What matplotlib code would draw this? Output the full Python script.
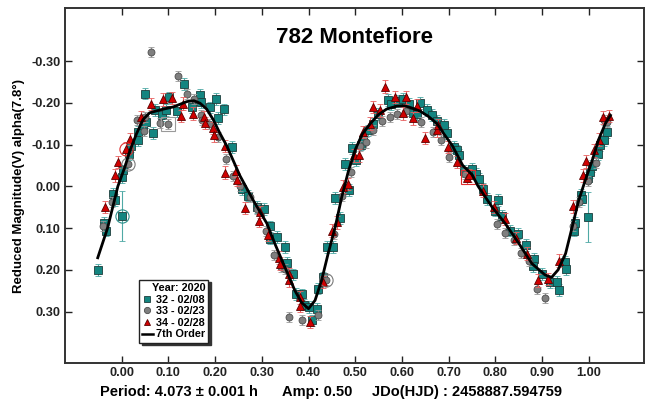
import matplotlib
matplotlib.use("Agg")
import matplotlib.pyplot as plt
from matplotlib.lines import Line2D
import numpy as np

plt.rcParams['font.family'] = ['Liberation Sans', 'DejaVu Sans']
plt.rcParams['font.weight'] = 'bold'
plt.rcParams['axes.unicode_minus'] = False

# session 32 - 02/08 (phase, reduced mag)
s32 = [(-0.050, 0.200), (-0.037, 0.088), (-0.034, 0.106), (-0.018, 0.018), (-0.013, 0.032),
       (0.000, -0.022), (0.003, -0.038), (0.016, -0.078), (0.021, -0.096), (0.036, -0.110),
       (0.036, -0.130), (0.046, -0.146), (0.050, -0.222), (0.053, -0.154), (0.068, -0.127),
       (0.071, -0.182), (0.086, -0.170), (0.101, -0.213), (0.094, -0.182), (0.118, -0.180),
       (0.133, -0.245), (0.150, -0.190), (0.168, -0.218), (0.171, -0.202), (0.189, -0.189),
       (0.203, -0.209), (0.206, -0.164), (0.219, -0.184), (0.236, -0.094), (0.257, 0.006),
       (0.271, 0.022), (0.289, 0.050), (0.305, 0.054), (0.318, 0.096), (0.318, 0.125),
       (0.333, 0.122), (0.350, 0.146), (0.355, 0.183), (0.367, 0.211), (0.373, 0.257),
       (0.385, 0.259), (0.391, 0.283), (0.400, 0.289), (0.407, 0.321), (0.418, 0.293),
       (0.421, 0.245), (0.432, 0.218), (0.439, 0.146), (0.453, 0.146), (0.457, 0.028),
       (0.467, 0.075), (0.477, -0.053), (0.486, 0.008), (0.494, -0.092), (0.501, -0.062),
       (0.512, -0.100), (0.516, -0.110), (0.528, -0.134), (0.537, -0.149), (0.549, -0.174),
       (0.571, -0.207), (0.576, -0.197), (0.592, -0.204), (0.602, -0.210), (0.614, -0.198),
       (0.623, -0.176), (0.632, -0.174), (0.639, -0.199), (0.653, -0.182), (0.664, -0.170),
       (0.674, -0.157), (0.689, -0.148), (0.697, -0.128), (0.711, -0.094), (0.717, -0.086),
       (0.723, -0.076), (0.733, -0.036), (0.749, -0.042), (0.758, -0.030), (0.765, -0.018),
       (0.774, 0.006), (0.782, 0.030), (0.806, 0.033), (0.800, 0.058), (0.814, 0.070),
       (0.831, 0.106), (0.849, 0.113), (0.866, 0.140), (0.883, 0.174), (0.881, 0.190),
       (0.899, 0.210), (0.916, 0.230), (0.932, 0.229), (0.935, 0.248), (0.949, 0.181),
       (0.951, 0.199), (0.967, 0.106), (0.970, 0.088), (0.983, 0.020), (0.986, 0.030),
       (0.999, -0.021), (1.003, -0.034), (1.006, -0.048), (1.019, -0.077), (1.024, -0.098),
       (1.033, -0.110), (1.039, -0.130)]
# two noisy points of session 32 with large errors
s32_wide = [(0.000, 0.072, 0.060), (0.999, 0.073, 0.060)]

# session 33 - 02/23
s33 = [(-0.039, 0.096), (-0.020, 0.038), (0.014, -0.053), (0.032, -0.160), (0.048, -0.133),
       (0.050, -0.165), (0.064, -0.322), (0.082, -0.152), (0.100, -0.150), (0.121, -0.265),
       (0.139, -0.222), (0.155, -0.210), (0.171, -0.170), (0.173, -0.160), (0.188, -0.150),
       (0.207, -0.118), (0.223, -0.066), (0.239, -0.025), (0.253, -0.002), (0.275, 0.026),
       (0.289, 0.054), (0.308, 0.106), (0.326, 0.164), (0.341, 0.193), (0.350, 0.197),
       (0.359, 0.312), (0.386, 0.320), (0.421, 0.307), (0.437, 0.225), (0.455, 0.115),
       (0.471, 0.022), (0.490, -0.034), (0.510, -0.096), (0.523, -0.105), (0.539, -0.134),
       (0.557, -0.157), (0.574, -0.167), (0.590, -0.173), (0.609, -0.181), (0.641, -0.155),
       (0.666, -0.130), (0.683, -0.110), (0.701, -0.070), (0.735, -0.030), (0.804, 0.090),
       (0.820, 0.112), (0.839, 0.128), (0.854, 0.160), (0.872, 0.179), (0.888, 0.246),
       (0.905, 0.267), (0.965, 0.095), (0.978, 0.038), (0.998, -0.013), (1.015, -0.056),
       (1.033, -0.160), (1.039, -0.154)]

# session 34 - 02/28
s34 = [(-0.036, 0.050), (-0.013, -0.026), (-0.007, -0.058), (0.009, -0.090), (0.018, -0.113),
       (0.041, -0.166), (0.064, -0.197), (0.088, -0.208), (0.108, -0.211), (0.128, -0.168),
       (0.132, -0.198), (0.152, -0.174), (0.176, -0.166), (0.178, -0.152), (0.196, -0.140),
       (0.198, -0.122), (0.221, -0.097), (0.221, -0.033), (0.245, -0.037), (0.248, -0.016),
       (0.265, 0.052), (0.293, 0.082), (0.296, 0.062), (0.314, 0.116), (0.336, 0.171),
       (0.339, 0.185), (0.358, 0.211), (0.359, 0.225), (0.381, 0.266), (0.381, 0.286),
       (0.403, 0.325), (0.430, 0.229), (0.450, 0.106), (0.460, 0.086), (0.474, 0.001),
       (0.484, -0.006), (0.498, -0.074), (0.508, -0.074), (0.517, -0.130), (0.532, -0.150),
       (0.539, -0.190), (0.552, -0.182), (0.563, -0.239), (0.584, -0.214), (0.602, -0.175),
       (0.608, -0.213), (0.623, -0.163), (0.632, -0.193), (0.650, -0.116), (0.674, -0.134),
       (0.678, -0.146), (0.698, -0.094), (0.717, -0.058), (0.739, -0.020), (0.744, -0.026),
       (0.773, 0.010), (0.796, 0.050), (0.821, 0.078), (0.844, 0.124), (0.868, 0.161),
       (0.891, 0.225), (0.913, 0.222), (0.937, 0.178), (0.965, 0.048), (0.988, -0.026),
       (0.994, -0.060), (1.010, -0.086), (1.021, -0.112), (1.031, -0.165), (1.043, -0.168)]

err32, err33, err34 = 0.014, 0.012, 0.015

# 7th order Fourier fit, sampled along phase
fit = [(-0.051, 0.171), (-0.030, 0.100), (-0.008, 0.000), (0.007, -0.046), (0.018, -0.086),
       (0.032, -0.126), (0.046, -0.160), (0.060, -0.176), (0.082, -0.183), (0.110, -0.190),
       (0.140, -0.203), (0.155, -0.205), (0.168, -0.199), (0.182, -0.185), (0.196, -0.160),
       (0.210, -0.128), (0.225, -0.097), (0.253, -0.026), (0.282, 0.034), (0.311, 0.089),
       (0.329, 0.140), (0.350, 0.195), (0.371, 0.250), (0.385, 0.278), (0.400, 0.293),
       (0.414, 0.273), (0.428, 0.225), (0.442, 0.161), (0.457, 0.098), (0.471, 0.026),
       (0.485, -0.035), (0.500, -0.088), (0.515, -0.125), (0.532, -0.150), (0.550, -0.172),
       (0.567, -0.185), (0.589, -0.192), (0.605, -0.193), (0.620, -0.188), (0.639, -0.180),
       (0.657, -0.167), (0.675, -0.150), (0.690, -0.125), (0.708, -0.097), (0.730, -0.050),
       (0.750, -0.028), (0.763, 0.000), (0.793, 0.050), (0.821, 0.089), (0.849, 0.135),
       (0.878, 0.185), (0.906, 0.212), (0.920, 0.218), (0.934, 0.200), (0.950, 0.161),
       (0.964, 0.098), (0.978, 0.034), (0.992, -0.014), (1.007, -0.062), (1.020, -0.110),
       (1.035, -0.150), (1.046, -0.170)]

# highlighted points (phase, mag, marker, colour)
marked = [(0.000, 0.072, 'o', '#2a8f8a'), (0.014, -0.053, 'o', '#7a7a7a'),
          (0.009, -0.090, 'o', '#e03030'), (0.100, -0.150, 's', '#9a9a9a'),
          (0.437, 0.225, 'o', '#7a7a7a'), (0.742, -0.022, 's', '#e03030')]

xticks = [0.0, 0.1, 0.2, 0.3, 0.4, 0.5, 0.6, 0.7, 0.8, 0.9, 1.0]
yticks = [-0.3, -0.2, -0.1, 0.0, 0.1, 0.2, 0.3]

teal, teal_e = '#138580', '#4fa9a5'
grey, grey_e = '#7f7f7f', '#9a9a9a'
red, red_e = '#d00000', '#e86060'

fig = plt.figure(figsize=(6.47, 4.01), dpi=100)
ax = fig.add_axes([0.1005, 0.0948, 0.895, 0.8852])

x, y = np.array(s32).T
ax.errorbar(x, y, yerr=err32, fmt='s', ms=5.8, mfc=teal, mec='#1d3d3b', mew=0.6,
            ecolor=teal_e, elinewidth=0.8, capsize=2.2, capthick=0.8, zorder=3)
xw, yw, ew = np.array(s32_wide).T
ax.errorbar(xw, yw, yerr=ew, fmt='s', ms=5.8, mfc=teal, mec='#1d3d3b', mew=0.6,
            ecolor=teal_e, elinewidth=0.8, capsize=2.2, capthick=0.8, zorder=3)
x, y = np.array(s33).T
ax.errorbar(x, y, yerr=err33, fmt='o', ms=5.0, mfc=grey, mec='#4d4d4d', mew=0.6,
            ecolor=grey_e, elinewidth=0.8, capsize=2.2, capthick=0.8, zorder=4)
x, y = np.array(s34).T
ax.errorbar(x, y, yerr=err34, fmt='^', ms=5.6, mfc=red, mec='#5a0000', mew=0.6,
            ecolor=red_e, elinewidth=0.8, capsize=2.2, capthick=0.8, zorder=5)

for px, py, m, c in marked:
    ax.plot(px, py, m, ms=9.5, mfc='none', mec=c, mew=0.8, zorder=6)

fx, fy = np.array(fit).T
ax.plot(fx, fy, color='black', lw=2, zorder=7)

ax.set_xlim(-0.121, 1.118)
ax.set_ylim(0.423, -0.427)
ax.set_xticks(xticks)
ax.set_yticks(yticks)
ax.set_xticklabels(['%.2f' % t for t in xticks])
ax.set_yticklabels(['%.2f' % t for t in yticks])
ax.tick_params(direction='in', length=5, width=1, top=True, right=True,
               labeltop=False, labelright=False, labelsize=9.2, pad=3, colors='#222222')
for lab in ax.get_xticklabels() + ax.get_yticklabels():
    lab.set_fontweight('bold')
for sp in ax.spines.values():
    sp.set_linewidth(1.4)
    sp.set_color('#333333')

ax.set_ylabel('Reduced Magnitude(V) alpha(7.8°)', fontsize=9.5, fontweight='bold', labelpad=5)
ax.text(0.5, 0.918, '782 Montefiore', transform=ax.transAxes, ha='center', va='center',
        fontsize=16, fontweight='bold')

handles = [
    Line2D([], [], ls='none', marker='s', ms=5, mfc=teal, mec='#1d3d3b', mew=0.6, label='32 - 02/08'),
    Line2D([], [], ls='none', marker='o', ms=4.5, mfc=grey, mec='#4d4d4d', mew=0.6, label='33 - 02/23'),
    Line2D([], [], ls='none', marker='^', ms=5, mfc=red, mec='#5a0000', mew=0.6, label='34 - 02/28'),
    Line2D([], [], color='black', lw=1.8, label='7th Order'),
]
leg = ax.legend(handles=handles, title='Year: 2020', loc='lower left',
                bbox_to_anchor=(0.118, 0.042), fontsize=7.8, title_fontsize=7.8,
                handlelength=1.0, handletextpad=0.3, labelspacing=0.15, borderpad=0.3,
                frameon=True, fancybox=False, framealpha=1, edgecolor='#222222',
                shadow={'color': '#333333', 'alpha': 1.0}, alignment='right')
leg.get_frame().set_linewidth(1.0)
leg.get_title().set_fontweight('bold')
for t in leg.get_texts():
    t.set_fontweight('bold')

fig.text(100 / 647, 0.022, 'Period: 4.073 ± 0.001 h', fontsize=10.5, fontweight='bold', va='center')
fig.text(282 / 647, 0.022, 'Amp: 0.50', fontsize=10.5, fontweight='bold', va='center')
fig.text(372 / 647, 0.022, 'JDo(HJD) : 2458887.594759', fontsize=10.5, fontweight='bold', va='center')

fig.savefig('out.png', dpi=100)
